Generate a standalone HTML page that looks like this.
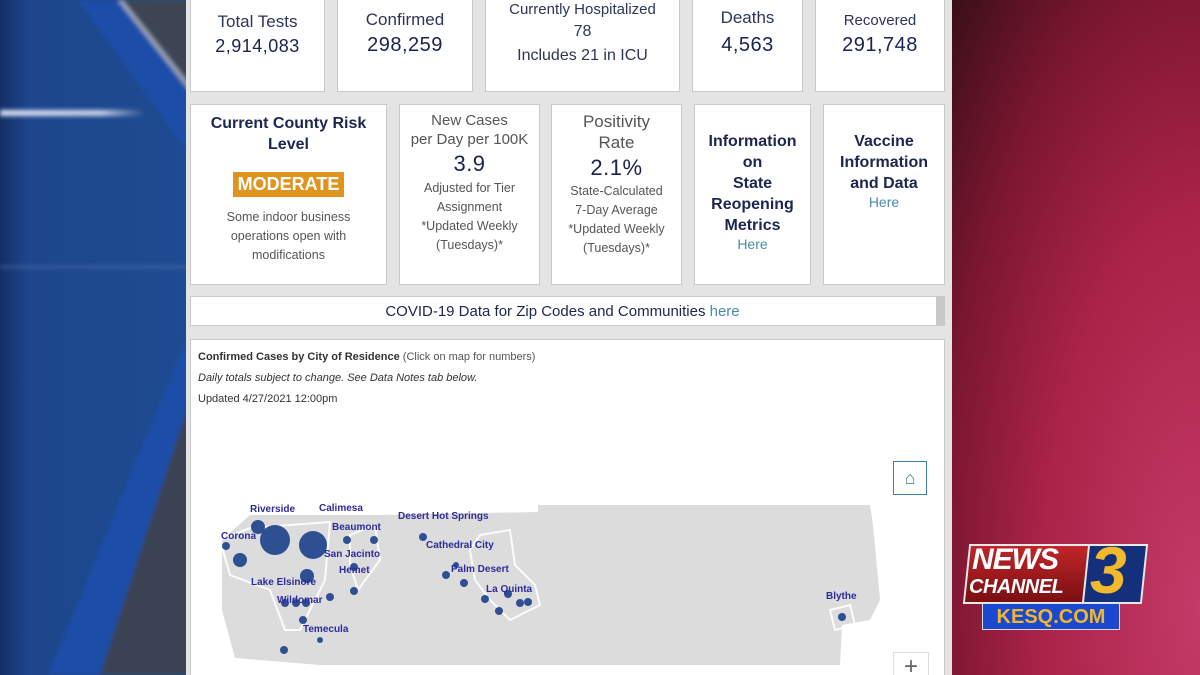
<!DOCTYPE html>
<html><head><meta charset="utf-8"><style>
*{margin:0;padding:0;box-sizing:border-box}
html,body{width:1200px;height:675px;overflow:hidden}
body{position:relative;font-family:"Liberation Sans",sans-serif;background:#222}
#right{position:absolute;left:952px;top:0;width:248px;height:675px;background:radial-gradient(ellipse at 100% 90%,#c43a68 0%,#ab2348 45%,#7a1630 75%,#3a0f18 100%)}
#panel{position:absolute;left:186px;top:0;width:766px;height:675px;background:#e4e4e4}
.c{position:absolute;background:#fff;border:1px solid #c9c9c9;text-align:center;color:#1c2650;overflow:hidden}
.t{font-size:17px;color:#2c3557}
.v{font-size:20px;color:#1a2250;letter-spacing:.5px}
.b{font-weight:bold;font-size:16px;color:#1c2650;line-height:21px}
.s{font-size:12.5px;color:#555;line-height:19px}
.h{color:#4a8cab}
.lbl{position:absolute;font-weight:bold;font-size:10px;color:#2d2b9a;font-family:"Liberation Sans",sans-serif}
</style></head><body>
<svg style="position:absolute;left:0;top:0" width="190" height="675">
<defs><linearGradient id="g" x1="0" x2="1"><stop offset="0" stop-color="#142f66"/><stop offset=".15" stop-color="#1d468c"/><stop offset="1" stop-color="#1f4b92"/></linearGradient>
<linearGradient id="st" x1="0" x2="1"><stop offset="0" stop-color="#d8e0f2"/><stop offset=".7" stop-color="#c8d2ea"/><stop offset="1" stop-color="#c8d2ea" stop-opacity="0"/></linearGradient>
<filter id="bl"><feGaussianBlur stdDeviation="2"/></filter></defs>
<rect width="190" height="675" fill="url(#g)"/>
<g filter="url(#bl)">
<polygon points="78,0 120,0 190,92 190,155" fill="#1a4ea8"/>
<polygon points="190,330 190,400 100,675 48,675" fill="#1a4ea8"/>
<polygon points="120,0 190,0 190,90" fill="#3c4454"/>
<polygon points="190,400 190,675 100,675" fill="#3a4252"/>
<line x1="120" y1="0" x2="190" y2="88" stroke="#b8c0d0" stroke-width="4" opacity=".8"/>
<rect x="0" y="110" width="145" height="6" fill="url(#st)"/>
<rect x="0" y="266" width="190" height="2" fill="#6d8cc6" opacity=".5"/>
</g>
</svg>
<div id="right"></div>
<div id="panel"></div>
<div class="c" style="left:190px;top:-5px;width:135px;height:97px"><div class="t" style="margin-top:16px">Total Tests</div><div class="v" style="font-size:18px;margin-top:4px">2,914,083</div></div>
<div class="c" style="left:337px;top:-5px;width:136px;height:97px"><div class="t" style="margin-top:14px;white-space:nowrap">Confirmed</div><div class="v" style="margin-top:4px">298,259</div></div>
<div class="c" style="left:485px;top:-5px;width:195px;height:97px"><div class="t" style="font-size:15px;margin-top:5px;white-space:nowrap">Currently Hospitalized</div><div class="t" style="font-size:16px;margin-top:5px">78</div><div class="t" style="font-size:16px;margin-top:6px">Includes 21 in ICU</div></div>
<div class="c" style="left:692px;top:-5px;width:111px;height:97px"><div class="t" style="margin-top:12px">Deaths</div><div class="v" style="margin-top:6px">4,563</div></div>
<div class="c" style="left:815px;top:-5px;width:130px;height:97px"><div class="t" style="font-size:15px;margin-top:16px">Recovered</div><div class="v" style="margin-top:5px">291,748</div></div>

<div class="c" style="left:190px;top:104px;width:197px;height:181px"><div class="b" style="margin-top:8px">Current County Risk<br>Level</div><div style="display:inline-block;background:#e0941d;color:#fff;font-weight:bold;font-size:18px;padding:2px 5px;margin-top:17px">MODERATE</div><div class="s" style="margin-top:11px">Some indoor business<br>operations open with<br>modifications</div></div>
<div class="c" style="left:399px;top:104px;width:141px;height:181px"><div class="t" style="font-size:15px;line-height:19px;margin-top:6px;color:#555">New Cases<br>per Day per 100K</div><div class="v" style="font-size:22px;margin-top:2px">3.9</div><div class="s" style="margin-top:2px">Adjusted for Tier<br>Assignment<br>*Updated Weekly<br>(Tuesdays)*</div></div>
<div class="c" style="left:551px;top:104px;width:131px;height:181px"><div class="t" style="font-size:17px;line-height:21px;margin-top:6px;color:#555">Positivity<br>Rate</div><div class="v" style="font-size:22px;margin-top:2px">2.1%</div><div class="s" style="margin-top:1px">State-Calculated<br>7-Day Average<br>*Updated Weekly<br>(Tuesdays)*</div></div>
<div class="c" style="left:694px;top:104px;width:117px;height:181px"><div class="b" style="margin-top:26px">Information<br>on<br>State<br>Reopening<br>Metrics</div><div class="h" style="font-size:14px">Here</div></div>
<div class="c" style="left:823px;top:104px;width:122px;height:181px"><div class="b" style="margin-top:26px">Vaccine<br>Information<br>and Data</div><div class="h" style="font-size:14px">Here</div></div>

<div class="c" style="left:190px;top:296px;width:755px;height:30px;font-size:15px;line-height:30px;padding-right:10px">COVID-19 Data for Zip Codes and Communities <span class="h">here</span><div style="position:absolute;right:0;top:0;width:8px;height:28px;background:#c8c8c8"></div></div>

<div class="c" style="left:190px;top:339px;width:755px;height:340px;text-align:left;color:#222">
<div style="font-size:11px;margin:11px 0 0 7px"><b style="color:#333">Confirmed Cases by City of Residence</b> <span style="color:#555">(Click on map for numbers)</span></div>
<div style="font-size:11px;margin:9px 0 0 7px;font-style:italic;color:#333">Daily totals subject to change. See Data Notes tab below.</div>
<div style="font-size:11px;margin:9px 0 0 7px;color:#333">Updated 4/27/2021 12:00pm</div>
<div style="position:absolute;left:702px;top:121px;width:34px;height:34px;border:1px solid #3f7fa0;color:#3f7fa0;font-size:18px;text-align:center;line-height:32px">⌂</div>
<div style="position:absolute;left:702px;top:312px;width:36px;height:30px;border:1px solid #ddd;color:#666;font-size:24px;text-align:center;line-height:28px">+</div>
</div>
<svg style="position:absolute;left:190px;top:490px" width="760" height="185">
<path d="M32,50 L60,25 L190,25 L348,22 L348,15 L680,15 L683,35 L690,110 L680,130 L652,135 L650,175 L130,175 L45,168 L32,120 Z" fill="#dcdcdc"/>
<g fill="none" stroke="#fff" stroke-width="2" opacity=".9">
<path d="M30,50 L60,38 L140,32 L135,90 L110,140 L95,140 L80,100 L40,85 Z"/>
<path d="M160,45 L185,35 L190,70 L168,100 L160,75 Z"/>
<path d="M290,45 L320,40 L325,75 L345,95 L350,115 L320,130 L300,110 L285,90 L280,60 Z"/>
<path d="M640,120 L660,115 L665,135 L645,140 Z"/>
</g>
<g fill="#2f4f93">
<circle cx="85" cy="50" r="15"/><circle cx="123" cy="55" r="14"/><circle cx="68" cy="37" r="7"/><circle cx="50" cy="70" r="7"/><circle cx="36" cy="56" r="4"/><circle cx="117" cy="86" r="7"/>
<circle cx="157" cy="50" r="4"/><circle cx="184" cy="50" r="4"/><circle cx="164" cy="77" r="4"/><circle cx="164" cy="101" r="4"/>
<circle cx="95" cy="113" r="4"/><circle cx="106" cy="113" r="4"/><circle cx="116" cy="113" r="4"/><circle cx="113" cy="130" r="4"/><circle cx="130" cy="150" r="3"/><circle cx="94" cy="160" r="4"/><circle cx="140" cy="107" r="4"/>
<circle cx="233" cy="47" r="4"/><circle cx="256" cy="85" r="4"/><circle cx="266" cy="75" r="3"/><circle cx="274" cy="93" r="4"/><circle cx="295" cy="109" r="4"/><circle cx="309" cy="121" r="4"/><circle cx="330" cy="113" r="4"/><circle cx="318" cy="104" r="4"/><circle cx="338" cy="112" r="4"/>
<circle cx="652" cy="127" r="4"/>
</g></svg>
<div class="lbl" style="left:250px;top:504px">Riverside</div>
<div class="lbl" style="left:319px;top:503px">Calimesa</div>
<div class="lbl" style="left:398px;top:511px">Desert Hot Springs</div>
<div class="lbl" style="left:221px;top:531px">Corona</div>
<div class="lbl" style="left:332px;top:522px">Beaumont</div>
<div class="lbl" style="left:426px;top:540px">Cathedral City</div>
<div class="lbl" style="left:324px;top:549px">San Jacinto</div>
<div class="lbl" style="left:339px;top:565px">Hemet</div>
<div class="lbl" style="left:451px;top:564px">Palm Desert</div>
<div class="lbl" style="left:251px;top:577px">Lake Elsinore</div>
<div class="lbl" style="left:486px;top:584px">La Quinta</div>
<div class="lbl" style="left:277px;top:595px">Wildomar</div>
<div class="lbl" style="left:826px;top:591px">Blythe</div>
<div class="lbl" style="left:303px;top:624px">Temecula</div>

<div style="position:absolute;left:966px;top:544px;width:122px;height:60px;background:linear-gradient(#c0262a,#7a0f12);border:2px solid #e8e8e8;transform:skewX(-6deg)"></div>
<div style="position:absolute;left:972px;top:543px;font:italic bold 30px 'Liberation Sans',sans-serif;color:#fff;letter-spacing:-1px">NEWS</div>
<div style="position:absolute;left:969px;top:576px;font:italic bold 20px 'Liberation Sans',sans-serif;color:#fff;letter-spacing:-0.5px">CHANNEL</div>
<div style="position:absolute;left:1085px;top:544px;width:60px;height:60px;background:#14307a;border:2px solid #e8e8e8;transform:skewX(-6deg)"></div>
<div style="position:absolute;left:1090px;top:532px;font:italic bold 66px 'Liberation Sans',sans-serif;color:#f2b92c">3</div>
<div style="position:absolute;left:982px;top:603px;width:138px;height:27px;background:#1a48d0;border:1px solid #ddd;text-align:center;font:bold 20px/26px 'Liberation Sans',sans-serif;color:#f0b62e">KESQ.COM</div>
</body></html>
